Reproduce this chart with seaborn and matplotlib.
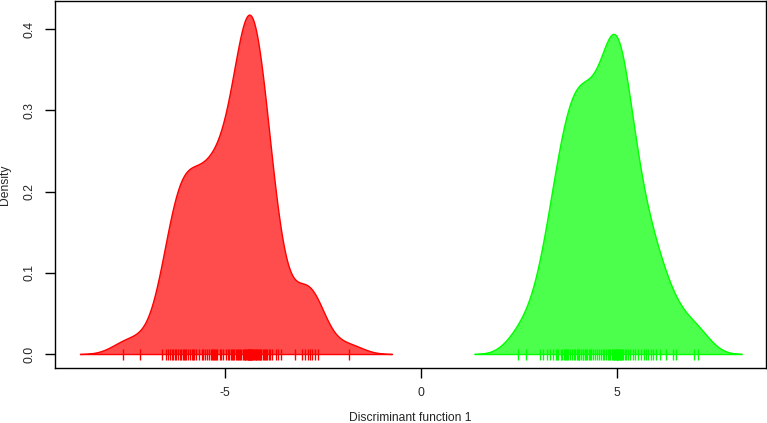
import numpy as np
import matplotlib
matplotlib.use("Agg")
import matplotlib.pyplot as plt
import seaborn as sns

# discriminant scores
red_scores = [-7.59, -7.16,
              -6.62, -6.50, -6.45, -6.40, -6.36, -6.32, -6.28, -6.24, -6.20, -6.16,
              -6.12, -6.08, -6.04, -6.02, -6.00, -5.95, -5.90, -5.85, -5.82, -5.79,
              -5.73, -5.66, -5.58, -5.55, -5.50, -5.45, -5.42, -5.37, -5.34, -5.29,
              -5.26, -5.22, -5.20, -5.10,
              -5.31, -5.14, -5.04, -4.98, -4.93, -4.89, -4.85, -4.82, -4.79, -4.76,
              -4.73, -4.70, -4.67, -4.64, -4.61, -4.58, -4.55, -4.52, -4.50, -4.48,
              -4.46, -4.44, -4.42, -4.41, -4.40, -4.39, -4.38, -4.36, -4.35, -4.34,
              -4.33, -4.32, -4.30, -4.28, -4.26, -4.24, -4.22, -4.20, -4.18, -4.15,
              -4.13, -4.12, -4.10, -4.07, -4.04, -4.01, -3.98, -3.95, -3.92, -3.88,
              -3.84, -3.79, -3.70, -3.64, -3.57,
              -3.21, -3.04, -2.97, -2.88, -2.83, -2.79, -2.70, -2.62,
              -1.85]
green_scores = [2.47, 2.67, 3.04, 3.10, 3.22, 3.30, 3.36, 3.44, 3.47, 3.50,
                3.56, 3.60, 3.64, 3.68, 3.70, 3.72, 3.76, 3.80, 3.84, 3.89, 3.94, 3.99,
                4.00, 4.02, 4.04, 4.09, 4.12, 4.14, 4.19, 4.21,
                4.24, 4.29, 4.31, 4.34, 4.39, 4.44, 4.49, 4.54, 4.59, 4.64, 4.68,
                4.73, 4.77, 4.80, 4.83, 4.86, 4.89, 4.91, 4.93, 4.95, 4.97, 4.99, 5.00,
                5.01, 5.02, 5.03, 5.05, 5.07, 5.08, 5.10, 5.13, 5.16, 5.20, 5.24, 5.29,
                5.34, 5.40, 5.46,
                5.54, 5.61, 5.68, 5.75, 5.79, 5.86, 5.92, 5.99, 6.10,
                6.24, 6.44, 6.51, 6.97, 7.07]

bw = 0.37

sns.set_style("white")
plt.rcParams["font.family"] = ["Liberation Sans", "DejaVu Sans"]
plt.rcParams["axes.unicode_minus"] = False

fig = plt.figure(figsize=(7.67, 4.23), dpi=100)
ax = fig.add_axes([55 / 767, 55 / 423, 711 / 767, 367 / 423])

for scores, col in [(red_scores, "red"), (green_scores, "#00ff00")]:
    sns.kdeplot(x=scores, ax=ax, fill=True, color=col, alpha=0.7, linewidth=1,
                bw_method=bw / np.std(scores, ddof=1), cut=3, gridsize=512)
    # rug
    ax.vlines(scores, -0.0072, 0.0065, color=col, linewidth=1)

ax.set_xlim(-9.337, 8.80)
ax.set_ylim(-0.0172, 0.4345)
ax.set_xticks([-5, 0, 5])
ax.set_yticks([0.0, 0.1, 0.2, 0.3, 0.4])
ax.set_yticklabels(["0.0", "0.1", "0.2", "0.3", "0.4"])
ax.tick_params(axis="both", direction="out", length=7, width=1, color="black",
               labelsize=8.7, pad=7, bottom=True, left=True)
plt.setp(ax.get_yticklabels(), rotation=90, va="center")
for s in ax.spines.values():
    s.set_color("black")
    s.set_linewidth(1)

ax.set_xlabel("Discriminant function 1", fontsize=8.7)
ax.set_ylabel("Density", fontsize=8.7)
ax.xaxis.label.set_va("center")
ax.yaxis.label.set_va("center")
ax.xaxis.set_label_coords(0.5, -0.136)
ax.yaxis.set_label_coords(-0.0703, 0.5)

fig.savefig("out.png", dpi=100)
